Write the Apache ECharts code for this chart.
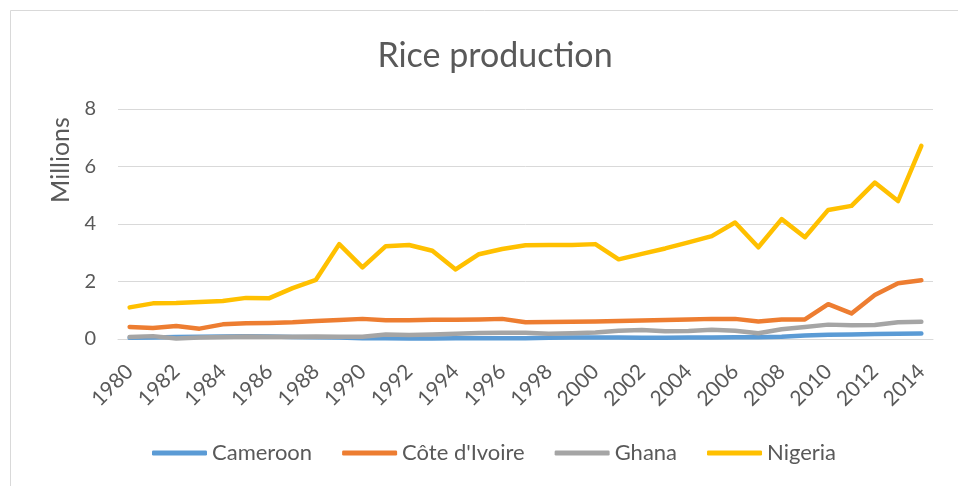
<!DOCTYPE html>
<html>
<head>
<meta charset="utf-8">
<script src="https://cdn.jsdelivr.net/npm/echarts@6/dist/echarts.min.js"></script>
<style>
html,body{margin:0;padding:0;background:#fff;}
#chart{width:958px;height:486px;}
</style>
</head>
<body>
<div id="chart"></div>
<script>
const years = [];
for (let y = 1980; y <= 2014; y++) years.push(String(y));

const cameroon = [0.04,0.05,0.07,0.08,0.09,0.10,0.09,0.07,0.06,0.05,0.03,0.03,0.02,0.02,0.03,0.03,0.03,0.03,0.04,0.05,0.05,0.05,0.04,0.04,0.05,0.05,0.06,0.06,0.08,0.12,0.15,0.16,0.17,0.18,0.19];
const coteDIvoire = [0.42,0.38,0.45,0.36,0.51,0.55,0.56,0.58,0.63,0.66,0.70,0.65,0.65,0.67,0.67,0.68,0.70,0.58,0.59,0.60,0.61,0.63,0.64,0.66,0.68,0.70,0.70,0.61,0.68,0.68,1.21,0.89,1.53,1.94,2.04];
const ghana = [0.07,0.10,0.02,0.05,0.07,0.09,0.08,0.08,0.09,0.08,0.08,0.16,0.14,0.16,0.18,0.21,0.22,0.22,0.18,0.20,0.23,0.29,0.31,0.27,0.28,0.32,0.29,0.20,0.34,0.42,0.50,0.48,0.49,0.58,0.60];
const nigeria = [1.10,1.24,1.25,1.29,1.32,1.43,1.42,1.77,2.06,3.30,2.49,3.23,3.27,3.07,2.42,2.95,3.13,3.26,3.27,3.27,3.30,2.77,2.96,3.15,3.36,3.58,4.05,3.19,4.17,3.54,4.49,4.63,5.44,4.80,6.72];

const seriesNames = ['Cameroon', "Côte d'Ivoire", 'Ghana', 'Nigeria'];
const seriesData = [cameroon, coteDIvoire, ghana, nigeria];
const colors = ['#5B9BD5', '#ED7D31', '#A5A5A5', '#FFC000'];

const FONT = 'Lato, "Open Sans", sans-serif';
const chart = echarts.init(document.getElementById('chart'), null, {renderer: 'canvas'});

chart.setOption({
  animation: false,
  backgroundColor: '#ffffff',
  color: colors,
  title: {
    text: 'Rice production',
    left: 490,
    textAlign: 'center',
    top: 34,
    textStyle: {fontFamily: FONT, fontSize: 34, fontWeight: 'normal', color: '#595959'}
  },
  legend: {
    data: seriesNames,
    left: 147,
    top: 437,
    icon: 'roundRect',
    itemWidth: 55,
    itemHeight: 5,
    itemGap: 30,
    textStyle: {fontFamily: FONT, fontSize: 22, color: '#595959'}
  },
  grid: {left: 118, right: 25, top: 109, bottom: 147, containLabel: false},
  xAxis: {
    type: 'category',
    data: years,
    boundaryGap: true,
    axisLine: {show: true, lineStyle: {color: '#d9d9d9', width: 1}},
    axisTick: {show: false},
    axisLabel: {
      interval: 1,
      rotate: 45,
      margin: 29,
      fontFamily: FONT,
      fontSize: 21,
      color: '#595959'
    }
  },
  yAxis: {
    type: 'value',
    min: 0,
    max: 8,
    interval: 2,
    axisLine: {show: false},
    axisTick: {show: false},
    axisLabel: {fontFamily: FONT, fontSize: 20, color: '#595959', margin: 22},
    splitLine: {lineStyle: {color: '#d9d9d9', width: 1}}
  },
  graphic: [
    {
      type: 'rect',
      silent: true,
      shape: {x: 10.5, y: 10.5, width: 1000, height: 600},
      style: {fill: 'none', stroke: '#d9d9d9', lineWidth: 1},
      z: -10
    },
    {
      type: 'text',
      silent: true,
      x: 61,
      y: 160,
      rotation: Math.PI / 2,
      style: {
        text: 'Millions',
        fontFamily: FONT,
        fontSize: 25,
        fill: '#595959',
        align: 'center',
        verticalAlign: 'middle'
      }
    }
  ],
  series: seriesNames.map((name, i) => ({
    name: name,
    type: 'line',
    data: seriesData[i],
    showSymbol: false,
    symbol: 'none',
    lineStyle: {width: 4.5, color: colors[i], cap: 'round', join: 'round'},
    itemStyle: {color: colors[i]}
  }))
});
</script>
</body>
</html>
